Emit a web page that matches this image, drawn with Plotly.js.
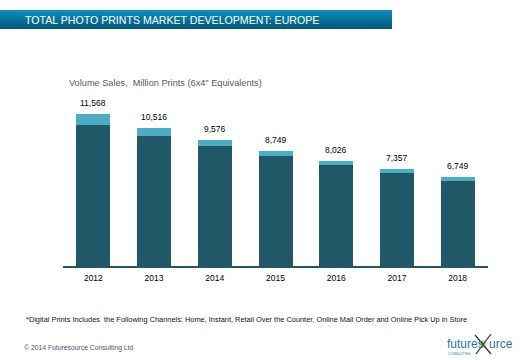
<!DOCTYPE html>
<html>
<head>
<meta charset="utf-8">
<script src="https://cdn.plot.ly/plotly-3.0.1.min.js"></script>
<style>html,body{margin:0;padding:0;background:#fff;}#chart{width:520px;height:360px;}</style>
</head>
<body>
<div id="chart"></div>
<script>
// ---- data ----
var years = ['2012', '2013', '2014', '2015', '2016', '2017', '2018'];
var digitalPrints = [10728, 9896, 9136, 8394, 7686, 7097, 6489];
var otherPrints = [840, 620, 440, 355, 340, 260, 260];
var totals = [11568, 10516, 9576, 8749, 8026, 7357, 6749];
var totalLabels = ['11,568', '10,516', '9,576', '8,749', '8,026', '7,357', '6,749'];

var titleText = 'TOTAL PHOTO PRINTS MARKET DEVELOPMENT: EUROPE';
var axisText = 'Volume Sales,  Million Prints (6x4" Equivalents)';
var footText = '*Digital Prints Includes  the Following Channels: Home, Instant, Retail Over the Counter, Online Mail Order and Online Pick Up in Store';
var copyText = '\u00a9 2014 Futuresource Consulting Ltd';

// ---- layout helpers (pixel -> paper) ----
var L = 63, R = 488, T = 108, B = 266;
function px(x) { return (x - L) / (R - L); }
function py(y) { return (B - y) / (B - T); }
var FONT = 'Liberation Sans, Arial, sans-serif';

var shapes = [];
// banner gradient as stripes
var top0 = 10, bot0 = 29, n = 19;
var c1 = [12, 140, 190], c2 = [2, 88, 120];
for (var i = 0; i < n; i++) {
  var t = i / (n - 1);
  var c = c1.map(function (v, k) { return Math.round(v + (c2[k] - v) * t); });
  var y0 = top0 + (bot0 - top0) * i / n, y1 = top0 + (bot0 - top0) * (i + 1) / n;
  shapes.push({type: 'rect', xref: 'paper', yref: 'paper', x0: px(0), x1: px(392), y0: py(y1), y1: py(y0),
    fillcolor: 'rgb(' + c.join(',') + ')', line: {width: 0}, layer: 'below'});
}
// logo star
shapes.push({type: 'circle', xref: 'paper', yref: 'paper', x0: px(479), x1: px(487), y0: py(348), y1: py(340),
  fillcolor: 'rgba(250,200,0,0.55)', line: {width: 0}});
shapes.push({type: 'line', xref: 'paper', yref: 'paper', x0: px(475), y0: py(335), x1: px(491), y1: py(354),
  line: {color: '#1c2f5a', width: 1.2}});
shapes.push({type: 'line', xref: 'paper', yref: 'paper', x0: px(491), y0: py(334), x1: px(476), y1: py(354),
  line: {color: '#1c2f5a', width: 1.2}});

function ann(text, x, y, size, color, anchor) {
  return {text: text, xref: 'paper', yref: 'paper', x: px(x), y: py(y), xanchor: anchor || 'left', yanchor: 'middle',
    showarrow: false, font: {size: size, color: color, family: FONT}};
}

var annotations = [
  ann(titleText, 23, 20, 10.6, '#ffffff'),
  ann(axisText, 67, 83, 9.2, '#595959'),
  ann(footText, 24, 319, 7.4, '#111111'),
  ann(copyText, 22, 348, 6.8, '#3f5670'),
  ann('futures', 445, 344, 12, '#2474ad'),
  ann('urce', 487, 344, 12, '#2474ad'),
  ann('CONSULTING', 446, 354, 3.5, '#2474ad')
];
// total labels above the bars (x given as category index)
for (var j = 0; j < years.length; j++) {
  annotations.push({text: totalLabels[j], x: j, y: totals[j], xref: 'x', yref: 'y',
    xanchor: 'center', yanchor: 'bottom', yshift: 4, showarrow: false,
    font: {size: 8.5, color: '#000000', family: FONT}});
}

var traces = [
  {type: 'bar', x: years, y: digitalPrints, name: 'Digital Prints*', marker: {color: '#215868'}, hoverinfo: 'x+y'},
  {type: 'bar', x: years, y: otherPrints, name: 'Other Prints', marker: {color: '#4bacc6'}, hoverinfo: 'x+y'}
];

var layout = {
  width: 520, height: 360,
  margin: {l: L, r: 520 - R, t: T, b: 360 - B, pad: 0},
  paper_bgcolor: '#ffffff', plot_bgcolor: '#ffffff',
  barmode: 'stack', bargap: 0.44, showlegend: false,
  font: {family: FONT},
  xaxis: {type: 'category', range: [-0.5, 6.5], showline: true, linecolor: '#215868', linewidth: 1.5, ticks: '', showgrid: false,
    tickfont: {size: 8.5, color: '#000000'}, ticklabelstandoff: 3, fixedrange: true},
  yaxis: {range: [0, 12024], visible: false, showgrid: false, zeroline: false, fixedrange: true},
  shapes: shapes,
  annotations: annotations
};

Plotly.newPlot('chart', traces, layout, {displayModeBar: false, staticPlot: true});
</script>
</body>
</html>
